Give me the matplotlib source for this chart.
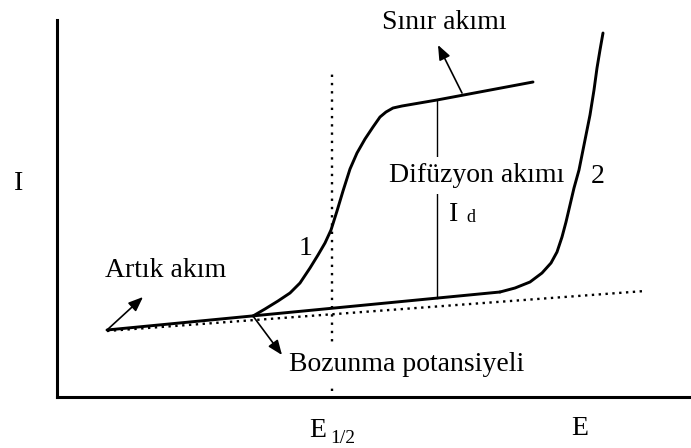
import matplotlib
matplotlib.use("Agg")
import matplotlib.pyplot as plt

# Polarogram sketch: potential E (horizontal) vs current I (vertical), arbitrary units
residual_E = [107, 500]
residual_I = [118, 156]

baseline_ext_E = [107, 645]
baseline_ext_I = [117, 157]

wave1_E = [253, 265, 278, 290, 300, 310, 318, 325, 331, 337, 343, 350, 357,
           365, 373, 380, 386, 393, 402, 437, 533]
wave1_I = [132, 139, 147, 155, 165, 180, 193, 205, 218, 237, 257, 279, 295,
           309, 321, 331, 336, 340, 342, 348, 366]

wave2_E = [500, 515, 530, 542, 551, 557, 562, 566, 570, 574, 579, 585, 590,
           594, 597, 600, 603]
wave2_I = [156, 160, 166, 175, 185, 196, 211, 226, 243, 260, 278, 308, 333,
           358, 380, 398, 415]

E_half = 332
E_half_span = [57, 378]

Id_E = 437
Id_span = [150, 348]

plt.rcParams["font.family"] = ["Liberation Serif", "DejaVu Serif"]

W, H = 691, 448
fig = plt.figure(figsize=(W / 100, H / 100), dpi=100)
ax = fig.add_axes([57 / W, (H - 397) / H, (W - 57) / W, (397 - 20) / H])
ax.set_xlim(57, 691)
ax.set_ylim(51, 428)
ax.set_xticks([])
ax.set_yticks([])
for side in ("top", "right"):
    ax.spines[side].set_visible(False)
for side in ("left", "bottom"):
    ax.spines[side].set_linewidth(2.2)
    ax.spines[side].set_color("black")

# dotted extension of the residual current and the half-wave potential
ax.plot(baseline_ext_E, baseline_ext_I, color="black", lw=1.7,
        linestyle=(0, (1, 1.9)), zorder=2)
ax.plot([E_half, E_half], E_half_span, color="black", lw=1.7,
        linestyle=(0, (1, 2.5)), zorder=2)

# residual current and the two waves
ax.plot(residual_E, residual_I, color="black", lw=2.1, zorder=5,
        solid_capstyle="round")
ax.plot(wave1_E, wave1_I, color="black", lw=2.1, zorder=5,
        solid_joinstyle="round", solid_capstyle="round")
ax.plot(wave2_E, wave2_I, color="black", lw=2.1, zorder=5,
        solid_joinstyle="round", solid_capstyle="round")

# diffusion current height
ax.plot([Id_E, Id_E], Id_span, color="black", lw=1.0, zorder=3)

arrow = dict(arrowstyle="-|>,head_length=0.8,head_width=0.32",
             mutation_scale=11, color="black", lw=1.2,
             shrinkA=0, shrinkB=0)
ax.annotate("", xy=(438, 403), xytext=(462, 355), arrowprops=arrow, zorder=6)
ax.annotate("", xy=(143, 151), xytext=(107, 118), arrowprops=arrow, zorder=6)
ax.annotate("", xy=(282, 93), xytext=(253, 132), arrowprops=arrow, zorder=6)

fs = 20
box = dict(facecolor="white", edgecolor="none", pad=4)
ax.text(382, H - 29, "Sınır akımı", fontsize=fs, ha="left", va="baseline")
ax.text(389, H - 182, "Difüzyon akımı", fontsize=fs, ha="left",
        va="baseline", bbox=box, zorder=4)
ax.text(105, H - 277, "Artık akım", fontsize=fs, ha="left", va="baseline")
ax.text(289, H - 371, "Bozunma potansiyeli", fontsize=fs, ha="left",
        va="baseline", bbox=box, zorder=4)
ax.text(299, H - 255, "1", fontsize=fs, ha="left", va="baseline")
ax.text(591, H - 183, "2", fontsize=fs, ha="left", va="baseline")
ax.text(449, H - 221, "I", fontsize=fs, ha="left", va="baseline")
ax.text(466, H - 222, "d", fontsize=13, ha="left", va="baseline")

ax.text(14, H - 190, "I", fontsize=fs, ha="left", va="baseline", clip_on=False)
ax.text(309, H - 437, "E", fontsize=fs, ha="left", va="baseline", clip_on=False)
ax.text(330, H - 443, "1/2", fontsize=14, ha="left", va="baseline",
        clip_on=False)
ax.text(571, H - 435, "E", fontsize=fs, ha="left", va="baseline", clip_on=False)

fig.savefig("out.png", dpi=100)
